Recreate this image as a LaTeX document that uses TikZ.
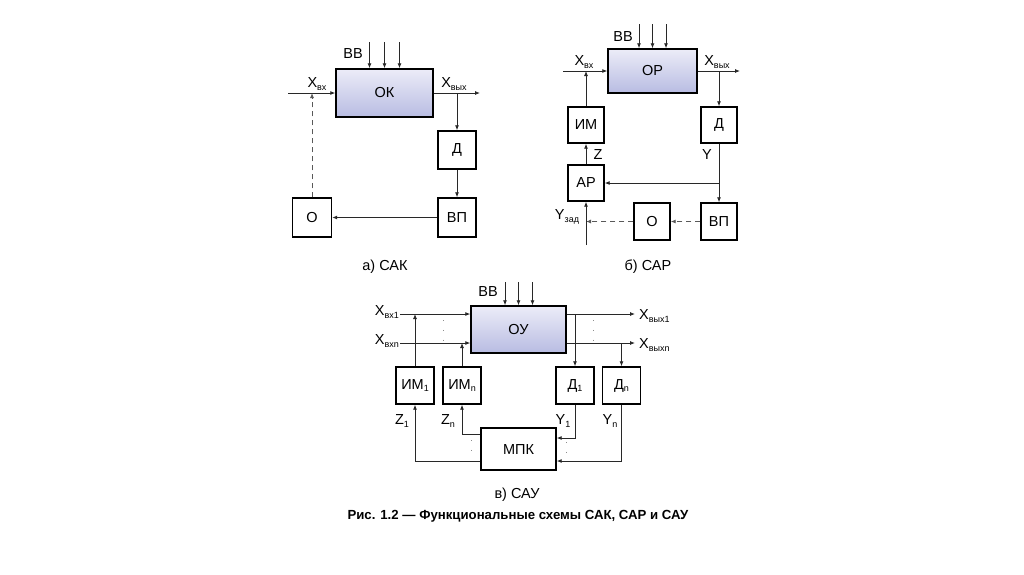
\documentclass[tikz,border=0pt]{standalone}
\usepackage{fontspec}
\setmainfont{Liberation Sans}
\usetikzlibrary{arrows.meta}
\newcommand\lsub[1]{{\fontsize{9}{9}\selectfont\raisebox{-2.4pt}{#1}}}
\definecolor{lnc}{HTML}{282828}
\definecolor{boxtop}{HTML}{ECECF8}
\definecolor{boxbot}{HTML}{B8BCE2}
\tikzset{
  txt/.style={font=\fontsize{14.5}{17}\selectfont, inner sep=0pt},
  blk/.style={draw=black, line width=1.4pt, inner sep=0pt, txt},
  bigblk/.style={blk, top color=boxtop, bottom color=boxbot},
  conn/.style={draw=lnc, line width=0.85pt},
  arr/.style={conn, -{Latex[length=5pt,width=4pt]}},
  darr/.style={arr, dashed, dash pattern=on 5pt off 4pt, draw=black!65},
  dotl/.style={draw=black!45, line width=0.8pt, dash pattern=on 0.8pt off 9pt},
}
\begin{document}
\begin{tikzpicture}[x=1pt,y=-1pt]
\useasboundingbox[fill=white] (0,0) rectangle (1024,574);

% ===== a) CAK =====
\node[bigblk, minimum width=97pt, minimum height=48pt] (ok) at (384.5,93) {ОК};
\node[blk, minimum width=38pt, minimum height=38pt] (ad) at (457,150) {Д};
\node[blk, minimum width=38pt, minimum height=39pt] (avp) at (457,217.5) {ВП};
\node[blk, minimum width=39pt, minimum height=39pt] (ao) at (312,217.5) {О};
\coordinate (ain) at (288,93);
\coordinate (aout) at (480,93);
\draw[arr] (ain) -- (ok.west);
\draw[arr] (ok.east) -- (aout);
\draw[arr] (ad.north |- ok.east) -- (ad.north);
\draw[arr] (ad) -- (avp);
\draw[arr] (avp) -- (ao);
\draw[darr] (ao.north) -- (ao.north |- ok.west);
\foreach \dx in {-15,0,15}
  \draw[arr] ([xshift=\dx pt, yshift=26pt]ok.north) -- ([xshift=\dx pt]ok.north);
\node[txt] (abb) at (353,54) {ВВ};
\node[txt] (axin) at (317,84) {X\lsub{вх}};
\node[txt] (axout) at (454,84) {X\lsub{вых}};
\node[txt] (acap) at (385,267) {а) САК};

% ===== b) CAP =====
\node[bigblk, minimum width=89pt, minimum height=44pt] (op) at (652.5,71) {ОР};
\node[blk, minimum width=36pt, minimum height=36pt] (bd) at (719,125) {Д};
\node[blk, minimum width=36pt, minimum height=36pt] (bim) at (586,125) {ИМ};
\node[blk, minimum width=36pt, minimum height=36pt] (bar) at (586,183) {АР};
\node[blk, minimum width=36pt, minimum height=37pt] (bvp) at (719,221.5) {ВП};
\node[blk, minimum width=36pt, minimum height=37pt] (bo) at (652,221.5) {О};
\coordinate (bin) at (563,71);
\coordinate (bout) at (740,71);
\coordinate (byz) at (586,245);
\draw[arr] (bin) -- (op.west);
\draw[arr] (op.east) -- (bout);
\draw[arr] (bd.north |- op.east) -- (bd.north);
\draw[arr] (bim.north) -- (bim.north |- op.west);
\draw[arr] (bar) -- (bim);
\draw[conn] (bd.south) -- (bd.south |- bar.east);
\draw[arr] (bd.south |- bar.east) -- (bar.east);
\draw[arr] (bd.south |- bar.east) -- (bvp.north);
\draw[darr] (bvp) -- (bo);
\draw[darr] (bo.west) -- (bar.south |- bo.west);
\draw[arr] (byz) -- (bar.south);
\foreach \dx in {-13.5,0,13.5}
  \draw[arr] ([xshift=\dx pt, yshift=24pt]op.north) -- ([xshift=\dx pt]op.north);
\node[txt] (bbb) at (623,37) {ВВ};
\node[txt] (bxin) at (584,62) {X\lsub{вх}};
\node[txt] (bxout) at (717,62) {X\lsub{вых}};
\node[txt] (bz) at (598,155) {Z};
\node[txt] (by) at (707,155) {Y};
\node[txt] (byzl) at (567,217) {Y\lsub{зад}};
\node[txt] (bcap) at (648,267) {б) САР};

% ===== c) CAY =====
\node[bigblk, minimum width=95pt, minimum height=47pt] (ou) at (518.5,329.5) {ОУ};
\node[blk, minimum width=38pt, minimum height=37pt] (im1) at (415,385.5) {ИМ\lsub{1}};
\node[blk, minimum width=38pt, minimum height=37pt] (imn) at (462,385.5) {ИМ\lsub{n}};
\node[blk, minimum width=38pt, minimum height=37pt] (d1) at (575,385.5) {Д\lsub{1}};
\node[blk, minimum width=38pt, minimum height=37pt] (dn) at (621.5,385.5) {Д\lsub{n}};
\node[blk, minimum width=75pt, minimum height=42pt] (mpk) at (518.5,449) {МПК};
\coordinate (in1) at (400,314);
\coordinate (inn) at (400,343);
\coordinate (out1) at (635,314);
\coordinate (outn) at (635,343);
\draw[arr] (in1) -- (in1 -| ou.west);
\draw[arr] (inn) -- (inn -| ou.west);
\draw[arr] (ou.east |- out1) -- (out1);
\draw[arr] (ou.east |- outn) -- (outn);
\draw[arr] (im1.north) -- (im1.north |- in1);
\draw[arr] (imn.north) -- (imn.north |- inn);
\draw[arr] (d1.north |- out1) -- (d1.north);
\draw[arr] (dn.north |- outn) -- (dn.north);
\draw[arr] (mpk.west |- 0,434) -| (imn.south);
\draw[arr] (mpk.west |- 0,461) -| (im1.south);
\draw[arr] (d1.south) |- (mpk.east |- 0,438);
\draw[arr] (dn.south) |- (mpk.east |- 0,461);
\draw[dotl] (443,320) -- (443,341);
\draw[dotl] (593,320) -- (593,341);
\draw[dotl] (471,440) -- (471,458);
\draw[dotl] (566,442) -- (566,459);
\foreach \dx in {-13.5,0,14}
  \draw[arr] ([xshift=\dx pt, yshift=23pt]ou.north) -- ([xshift=\dx pt]ou.north);
\node[txt] (cbb) at (488,292) {ВВ};
\node[txt, anchor=east] (cxin1) at (399,312) {X\lsub{вх1}};
\node[txt, anchor=east] (cxinn) at (399,341) {X\lsub{вхn}};
\node[txt, anchor=west] (cxo1) at (639,316) {X\lsub{вых1}};
\node[txt, anchor=west] (cxon) at (639,345) {X\lsub{выхn}};
\node[txt] (cz1) at (402,421) {Z\lsub{1}};
\node[txt] (czn) at (448,421) {Z\lsub{n}};
\node[txt] (cy1) at (563,421) {Y\lsub{1}};
\node[txt] (cyn) at (610,421) {Y\lsub{n}};
\node[txt] (ccap) at (517,495) {в) САУ};

\node[font=\fontsize{13.2}{15}\selectfont\bfseries, inner sep=0pt] (fig) at (518,516) {Рис. 1.2 — Функциональные схемы САК, САР и САУ};
\end{tikzpicture}
\end{document}
